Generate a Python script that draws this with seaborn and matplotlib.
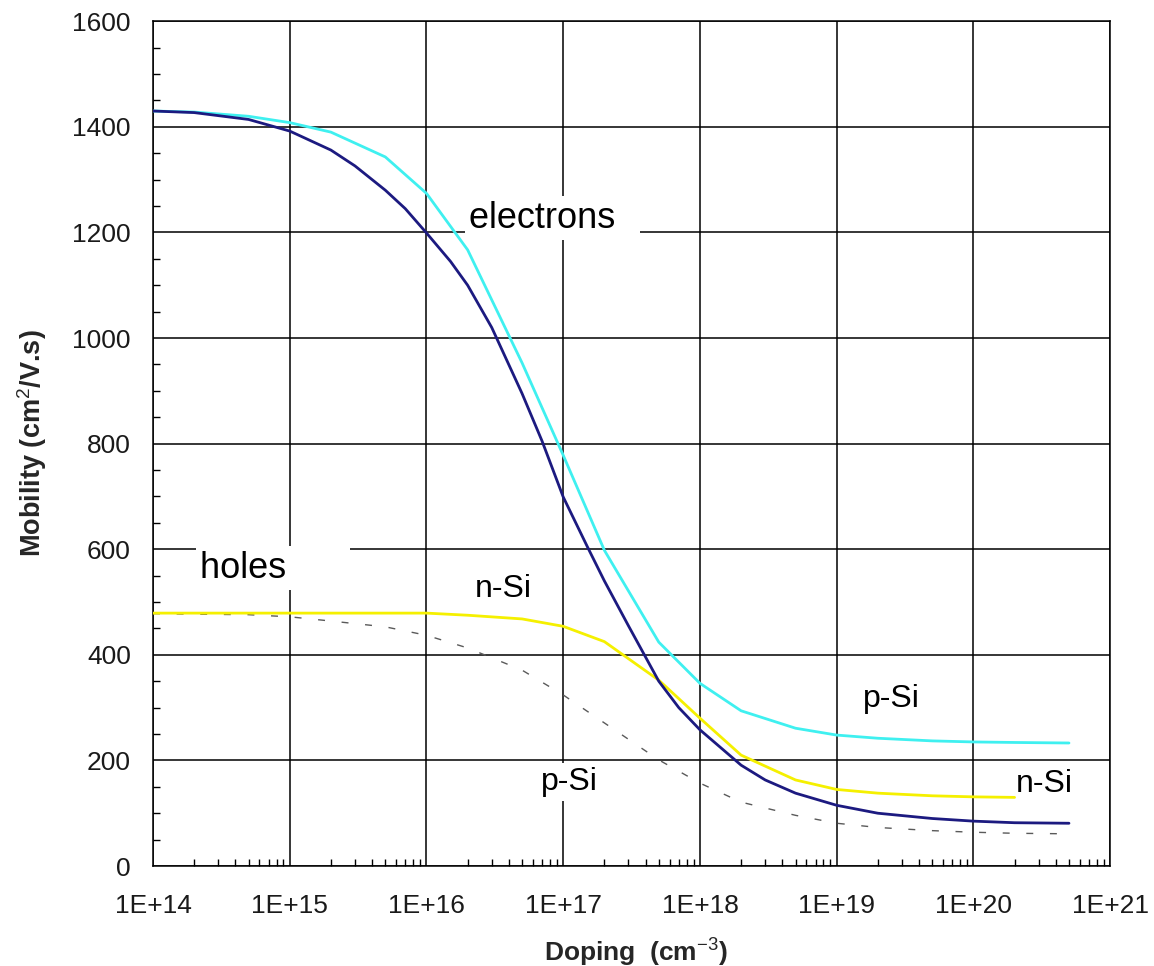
import numpy as np
import pandas as pd
import seaborn as sns
import matplotlib.pyplot as plt
from matplotlib.ticker import LogLocator, MultipleLocator, FuncFormatter, NullFormatter

sns.set_theme(style='white')
plt.rcParams['font.family'] = ['Liberation Sans', 'DejaVu Sans']
plt.rcParams['mathtext.fontset'] = 'custom'
plt.rcParams['mathtext.rm'] = 'Liberation Sans'
plt.rcParams['mathtext.bf'] = 'Liberation Sans:bold'

# Datos (dopaje en cm^-3, movilidad en cm2/V.s)
dop_e_nsi = [1e14, 2e14, 5e14, 1e15, 2e15, 3e15, 5e15, 7e15, 1e16, 1.5e16, 2e16, 3e16,
             5e16, 7e16, 1e17, 1.5e17, 2e17, 3e17, 5e17, 7e17, 1e18, 2e18, 3e18,
             5e18, 1e19, 2e19, 5e19, 1e20, 2e20, 5e20]
mu_e_nsi = [1430, 1427, 1414, 1392, 1356, 1326, 1280, 1245, 1199, 1145, 1100, 1020,
            895, 805, 699, 605, 540, 455, 350, 300, 258, 191, 163,
            138, 115, 100, 90, 85, 82, 81]

dop_e_psi = [1e14, 2e14, 5e14, 1e15, 2e15, 5e15, 1e16, 2e16, 5e16, 1e17, 2e17,
             5e17, 1e18, 2e18, 5e18, 1e19, 2e19, 5e19, 1e20, 2e20, 5e20]
mu_e_psi = [1430, 1428, 1420, 1408, 1390, 1343, 1274, 1167, 953, 778, 598,
            424, 346, 294, 261, 248, 242, 237, 235, 234, 233]

dop_h_nsi = [1e14, 1e15, 1e16, 2e16, 5e16, 1e17, 2e17, 5e17, 1e18, 2e18, 5e18,
             1e19, 2e19, 5e19, 1e20, 2e20]
mu_h_nsi = [479, 479, 479, 475, 468, 454, 425, 352, 280, 210, 163,
            145, 138, 133, 131, 130]

dop_h_psi = [1e14, 2e14, 5e14, 1e15, 2e15, 5e15, 1e16, 2e16, 5e16, 1e17, 2e17,
             5e17, 1e18, 2e18, 5e18, 1e19, 2e19, 5e19, 1e20, 2e20, 5e20]
mu_h_psi = [478, 477, 476, 472, 464, 453, 437, 413, 371, 324, 271,
            201, 157, 121, 96, 81, 73, 67, 64, 62, 61]

x_ticks = [1e14, 1e15, 1e16, 1e17, 1e18, 1e19, 1e20, 1e21]
x_ticklabels = ['1E+14', '1E+15', '1E+16', '1E+17', '1E+18', '1E+19', '1E+20', '1E+21']

etiquetas = ['electrons  ', 'holes      ', 'n-Si', 'p-Si', 'p-Si', 'n-Si']
etiq_x = [2.05e16, 2.2e14, 2.27e16, 6.9e16, 1.56e19, 2.06e20]
etiq_y = [1227, 564, 524, 159, 316, 156]
etiq_size = [26, 26, 23, 23, 23, 23]

fig, ax = plt.subplots(figsize=(11.54, 9.66), dpi=100)
fig.subplots_adjust(left=0.1326, right=0.962, bottom=0.1035, top=0.978)

sns.lineplot(x=dop_h_psi, y=mu_h_psi, ax=ax, color='#5a5a5a', lw=1.0, zorder=4)
ax.lines[-1].set_dashes((5, 12))
sns.lineplot(x=dop_h_nsi, y=mu_h_nsi, ax=ax, color='#f5f000', lw=2.0, zorder=5)
sns.lineplot(x=dop_e_psi, y=mu_e_psi, ax=ax, color='#3ff0f0', lw=2.0, zorder=5)
sns.lineplot(x=dop_e_nsi, y=mu_e_nsi, ax=ax, color='#1c1a80', lw=2.0, zorder=6)

ax.set_xscale('log')
ax.set_xlim(1e14, 1e21)
ax.set_ylim(0, 1600)

ax.set_xticks(x_ticks)
ax.set_xticklabels(x_ticklabels)
ax.xaxis.set_minor_locator(LogLocator(base=10, subs=np.arange(2, 10), numticks=100))
ax.xaxis.set_minor_formatter(NullFormatter())
ax.yaxis.set_major_locator(MultipleLocator(200))
ax.yaxis.set_minor_locator(MultipleLocator(50))

ax.set_axisbelow(True)
ax.grid(which='major', color='black', lw=1.1)
for s in ax.spines.values():
    s.set_color('black')
    s.set_linewidth(1.1)

ax.tick_params(which='major', direction='out', length=7, width=1.1, color='black',
               labelsize=19, labelcolor='#1a1a1a')
ax.tick_params(axis='x', which='major', pad=13)
ax.tick_params(axis='y', which='major', pad=9)
ax.tick_params(which='minor', direction='in', length=5, width=1.0, color='black')
ax.tick_params(axis='x', which='minor', bottom=True)
ax.tick_params(axis='y', which='minor', left=True)

ax.set_xlabel('Doping  (cm$^{-3}$)', fontsize=19, fontweight='bold')
ax.set_ylabel('Mobility (cm$^{2}$/V.s)', fontsize=19.5, fontweight='bold')
ax.xaxis.set_label_coords(0.505, -0.082)
ax.yaxis.set_label_coords(-0.109, 0.5)

for txt, x, y, fs in zip(etiquetas, etiq_x, etiq_y, etiq_size):
    ax.text(x, y, txt, fontsize=fs, ha='left', va='center', color='black', zorder=3,
            bbox=dict(facecolor='white', edgecolor='none', pad=3))

plt.savefig('out.png', dpi=100)
plt.close()
